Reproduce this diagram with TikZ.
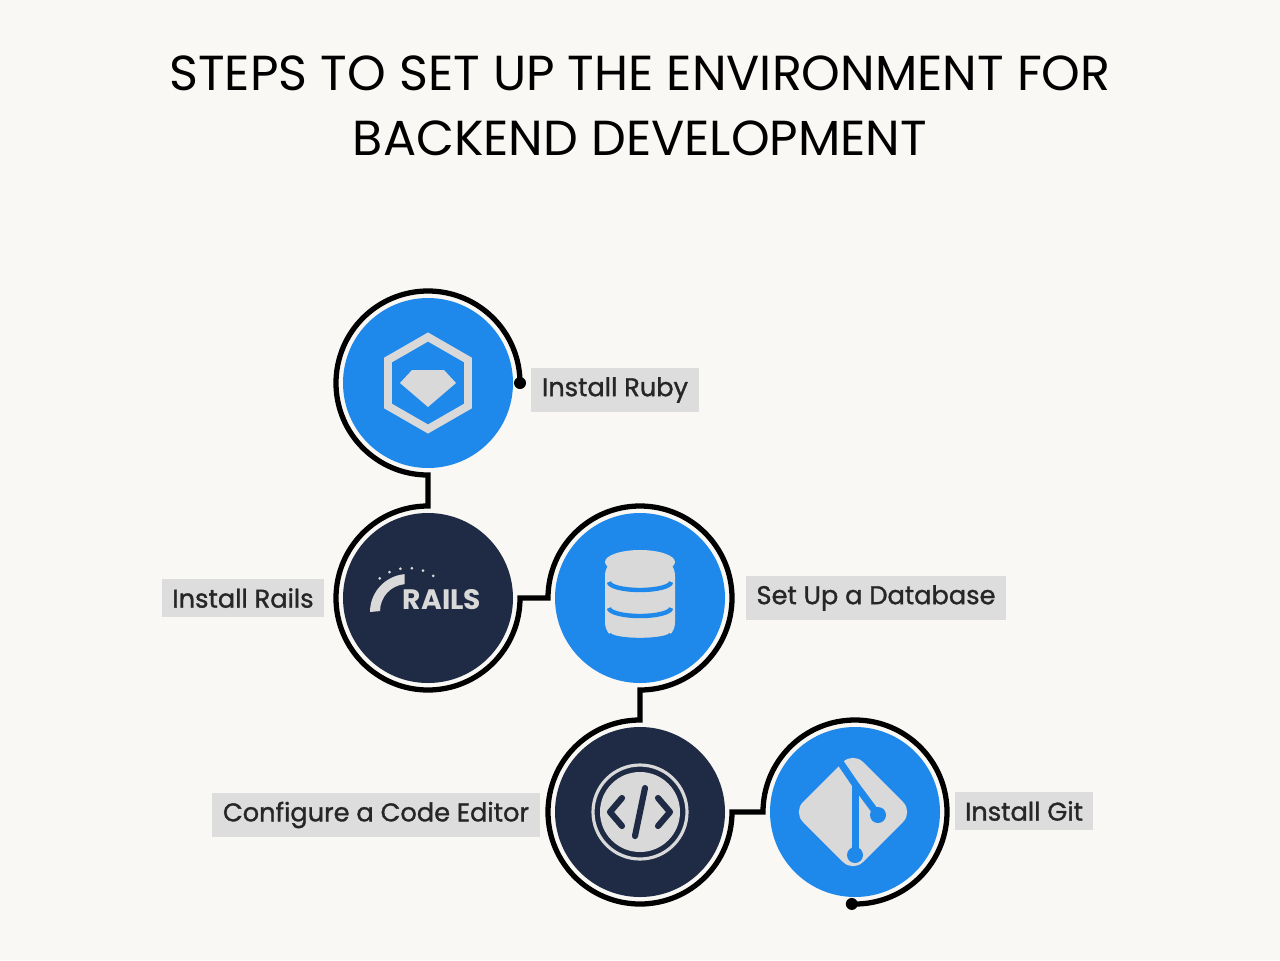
\documentclass[tikz,border=0pt]{standalone}
\usepackage{fontspec}
\setmainfont{Poppins}
\newfontfamily\tagfont{Poppins}[FakeBold=1.2]
\definecolor{paper}{RGB}{249,248,244}
\definecolor{stepblue}{RGB}{30,136,235}
\definecolor{stepnavy}{RGB}{31,42,68}
\definecolor{iconGray}{RGB}{217,217,217}
\definecolor{tagGray}{RGB}{221,221,221}
\tikzset{
	blueDisc/.style={circle, fill=stepblue, minimum size=170*0.02cm, inner sep=0pt},
	navyDisc/.style={circle, fill=stepnavy, minimum size=170*0.02cm, inner sep=0pt},
	track/.style={line width=3pt, black},
	tag/.style={fill=tagGray, inner xsep=6pt, inner ysep=5pt, font=\tagfont\fontsize{14.6}{16}\selectfont, text=black!85}
}
\begin{document}
\begin{tikzpicture}[x=0.02cm, y=0.02cm]

%Background
\fill[paper] (0,0) rectangle (1280,-960);
\useasboundingbox (0,0) rectangle (1280,-960);

%Title
\node (title1) at (640,-73) {\fontsize{28}{30}\selectfont STEPS TO SET UP THE ENVIRONMENT FOR};
\node (title2) at (640,-138) {\fontsize{28}{30}\selectfont BACKEND DEVELOPMENT};

%Discs
\node[blueDisc] (ruby) at (428,-383) {};
\node[navyDisc] (rails) at (428,-598) {};
\node[blueDisc] (db) at (640,-598) {};
\node[navyDisc] (code) at (640,-812) {};
\node[blueDisc] (git) at (855,-812) {};

%Track
\coordinate (start) at (520,-383);
\draw[track] (start) arc[start angle=0, end angle=270, radius=92] -- (428,-506)
	arc[start angle=90, end angle=360, radius=92] -- (548,-598)
	arc[start angle=180, end angle=-90, radius=92] -- (640,-720)
	arc[start angle=90, end angle=360, radius=92] -- (763,-812)
	arc[start angle=180, end angle=-92, radius=92] coordinate (finish);
\fill (start) circle (6);
\fill (finish) circle (6);

%Ruby icon
\draw[iconGray, line width=4.5pt] (428,-337) -- (468,-360) -- (468,-406) -- (428,-429) -- (388,-406) -- (388,-360) -- cycle;
\fill[iconGray] (400,-383) -- (412,-370) -- (444,-370) -- (456,-383) -- (428,-407) -- cycle;

%Rails icon
\node[text=iconGray, font=\fontsize{16}{16}\bfseries] (railsword) at (442,-600) {RAILS};
\fill[iconGray] (370,-612) arc[start angle=180, end angle=95, radius=38] -- ++(0,-10) arc[start angle=95, end angle=180, radius=27] -- cycle;
\foreach \a in {55,70,85,100,115,130}
	\fill[iconGray] (408,-612) ++(\a:44) circle (1.5);

%Database icon
\fill[iconGray, rounded corners=10] (605,-558) rectangle (675,-640);
\fill[iconGray] (640,-562) ellipse (35 and 12);
\foreach \y in {-582,-608}
	\draw[stepblue, line width=2.5pt] (609,\y) arc[start angle=180, end angle=360, x radius=31, y radius=8];
\draw[stepblue, line width=2.5pt] (609,-634) arc[start angle=180, end angle=360, x radius=31, y radius=6];

%Code icon
\draw[iconGray, line width=1.8pt] (code) circle (47);
\fill[iconGray] (code) circle (40);
\draw[stepnavy, line width=3.5pt, line cap=round, line join=round] (622,-798) -- (610,-812) -- (622,-826);
\draw[stepnavy, line width=3.5pt, line cap=round, line join=round] (658,-798) -- (670,-812) -- (658,-826);
\draw[stepnavy, line width=3.5pt, line cap=round] (645,-788) -- (635,-836);

%Git icon
\fill[iconGray, rounded corners=8] (853,-752) -- (913,-812) -- (853,-872) -- (793,-812) -- cycle;
\draw[stepblue, line width=4pt] (840,-762) -- (855,-784) -- (878,-815);
\draw[stepblue, line width=4pt] (855,-784) -- (855,-852);
\fill[stepblue] (878,-815) circle (8);
\fill[stepblue] (855,-855) circle (8);

%Labels
\node[tag] (rubyTag) at (615,-390) {Install Ruby};
\node[tag] (railsTag) at (243,-598) {Install Rails};
\node[tag] (dbTag) at (876,-598) {Set Up a Database};
\node[tag] (codeTag) at (376,-815) {Configure a Code Editor};
\node[tag] (gitTag) at (1024,-811) {Install Git};

\end{tikzpicture}
\end{document}
